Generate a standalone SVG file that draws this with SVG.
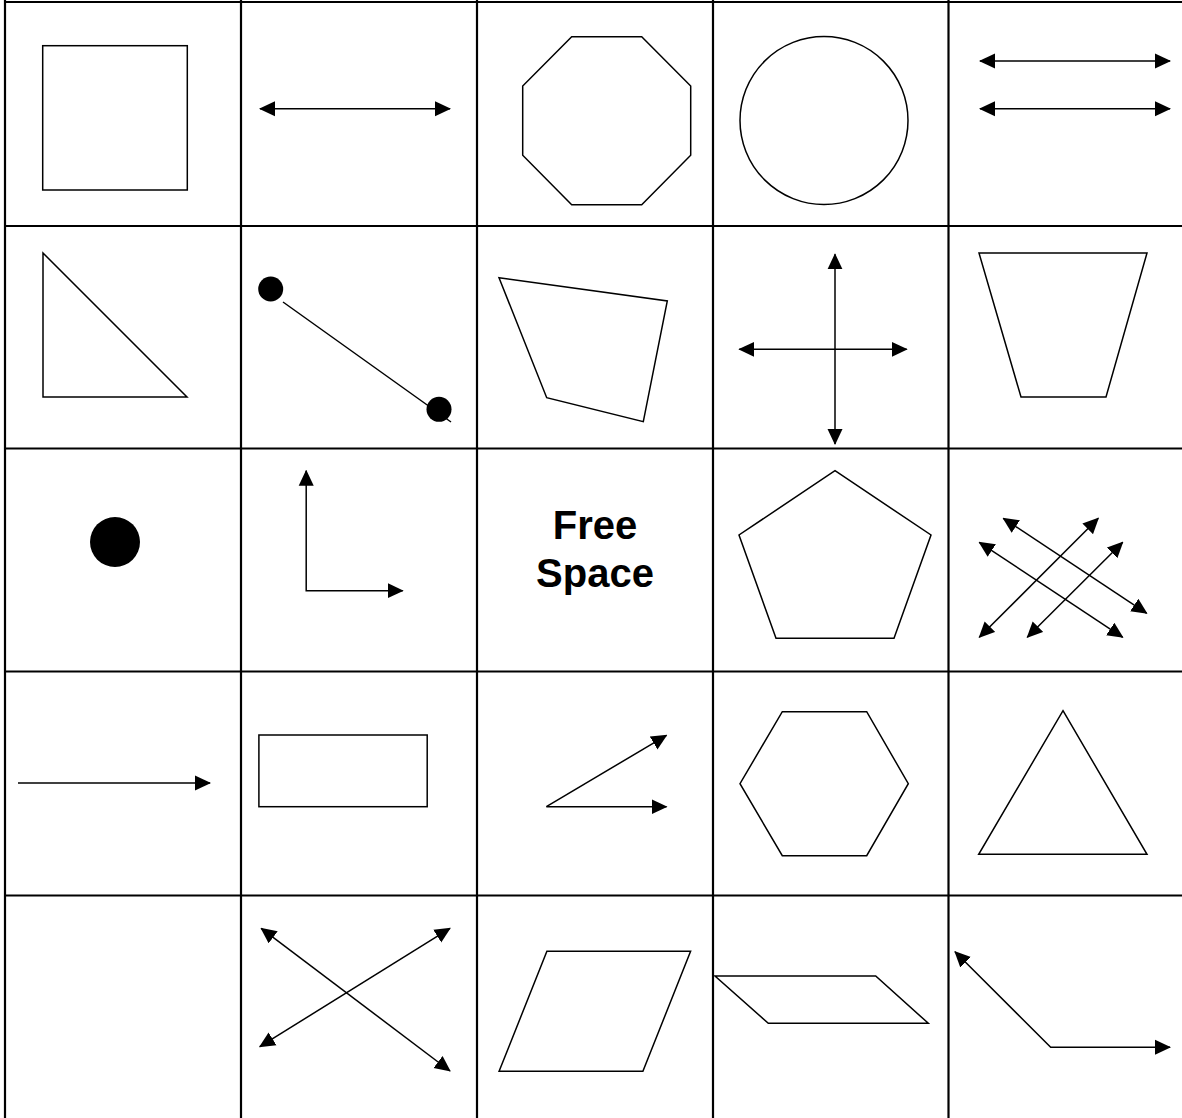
<svg xmlns="http://www.w3.org/2000/svg" width="1182" height="1118" viewBox="0 0 1182 1118">
<style>
.grid{stroke:#000;stroke-width:2.2;fill:none}
.shape{stroke:#000;stroke-width:1.5;fill:none;stroke-linejoin:miter}
.arr{stroke:#000;stroke-width:1.5;fill:none;marker-end:url(#ah)}
.arr2{stroke:#000;stroke-width:1.5;fill:none;marker-start:url(#ah);marker-end:url(#ah)}
.dot{fill:#000}
.label{font-family:"Liberation Sans",Arial,sans-serif;font-weight:bold;font-size:40px;text-anchor:middle;fill:#000}
</style>
<defs>
<marker id="ah" markerUnits="userSpaceOnUse" markerWidth="16" markerHeight="16" viewBox="0 0 16 16" refX="15" refY="8" orient="auto-start-reverse">
<path d="M0,0.5 L16,8 L0,15.5 z" fill="#000"/>
</marker>
</defs>
<rect width="1182" height="1118" fill="#fff"/>
<g id="grid" class="grid">
<line x1="5" y1="0" x2="5" y2="1118"/>
<line x1="241" y1="0" x2="241" y2="1118"/>
<line x1="477" y1="0" x2="477" y2="1118"/>
<line x1="713" y1="0" x2="713" y2="1118"/>
<line x1="948.5" y1="0" x2="948.5" y2="1118"/>
<line x1="4" y1="2" x2="1182" y2="2"/>
<line x1="4" y1="226" x2="1182" y2="226"/>
<line x1="4" y1="448.5" x2="1182" y2="448.5"/>
<line x1="4" y1="671.5" x2="1182" y2="671.5"/>
<line x1="4" y1="895.5" x2="1182" y2="895.5"/>
</g>
<g id="square"><rect class="shape" x="42.7" y="45.7" width="144.6" height="144.3"/></g>
<g id="octagon"><polygon class="shape" points="571.7,36.7 641.7,36.7 690.7,86 690.7,155.3 641.7,204.7 571.7,204.7 522.7,155.3 522.7,86"/></g>
<g id="circle"><circle class="shape" cx="824" cy="120.5" r="84"/></g>
<g id="right-triangle"><polygon class="shape" points="43,253 43,397 187,397"/></g>
<g id="dumbbell">
<line class="shape" x1="283" y1="302" x2="451" y2="422"/>
<circle class="dot" cx="270.7" cy="289" r="12.5"/>
<circle class="dot" cx="439" cy="409.3" r="12.5"/>
</g>
<g id="quadrilateral"><polygon class="shape" points="499,277.7 667.3,301 643.3,421.7 546.7,397.7"/></g>
<g id="trapezoid"><polygon class="shape" points="979,253 1147,253 1106,397 1021,397"/></g>
<g id="big-dot"><circle class="dot" cx="115" cy="542" r="25"/></g>
<g id="free-space">
<text class="label" x="595" y="539">Free</text>
<text class="label" x="595" y="586.5">Space</text>
</g>
<g id="pentagon"><polygon class="shape" points="835,470.7 931,535 894,638.3 776,638.3 739,535"/></g>
<g id="rectangle"><rect class="shape" x="258.9" y="735" width="168.3" height="71.7"/></g>
<g id="hexagon"><polygon class="shape" points="782.3,711.7 866.7,711.7 908.3,783.7 866.7,855.7 782.3,855.7 740,783.7"/></g>
<g id="triangle"><polygon class="shape" points="1063,710.7 1147,854.3 978.7,854.3"/></g>
<g id="parallelogram-tall"><polygon class="shape" points="546.9,951.3 690.6,951.3 642.9,1071.3 499.1,1071.3"/></g>
<g id="parallelogram-flat"><polygon class="shape" points="715,976 875.7,976 928.3,1023.3 768.3,1023.3"/></g>
<g id="connectors">
<line class="arr2" x1="260" y1="108.7" x2="450" y2="108.7"/>
<line class="arr2" x1="980" y1="61" x2="1170" y2="61"/>
<line class="arr2" x1="980" y1="108.7" x2="1170" y2="108.7"/>
<line class="arr2" x1="835" y1="254.3" x2="835" y2="444"/>
<line class="arr2" x1="739.3" y1="349.3" x2="906.7" y2="349.3"/>
<path class="arr2" d="M306.2,470.7 L306.2,590.7 L402.7,590.7"/>
<line class="arr2" x1="1003.3" y1="518.3" x2="1146.7" y2="613.3"/>
<line class="arr2" x1="979.3" y1="542.3" x2="1122.7" y2="637.3"/>
<line class="arr2" x1="979.3" y1="637.3" x2="1098.3" y2="518.3"/>
<line class="arr2" x1="1027.3" y1="637.3" x2="1122.7" y2="542.3"/>
<line class="arr" x1="18" y1="783" x2="210" y2="783"/>
<line class="arr" x1="546.4" y1="806.7" x2="666.5" y2="735.3"/>
<line class="arr" x1="546.4" y1="806.7" x2="666.5" y2="806.7"/>
<line class="arr2" x1="261.2" y1="928.3" x2="450" y2="1071"/>
<line class="arr2" x1="259.8" y1="1046.7" x2="450" y2="928.3"/>
<path class="arr2" d="M955,951.7 L1050.7,1047.3 L1170,1047.3"/>
</g>
</svg>
